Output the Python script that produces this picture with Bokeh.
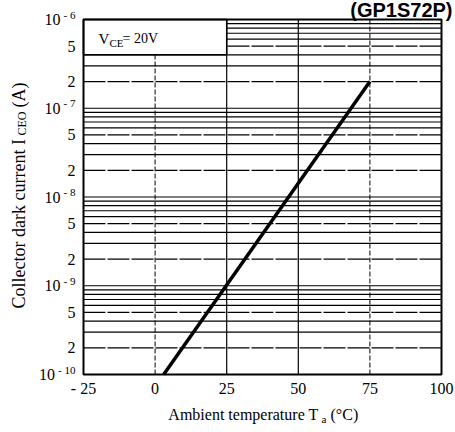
import math
from bokeh.plotting import figure
from bokeh.models import Range1d, Label
from bokeh.embed import file_html
from bokeh.resources import INLINE

# ---- data ----
temperature = [3, 75]              # Ta (deg C)
dark_current = [1e-10, 2e-7]       # I_CEO (A)

x_ticks = [-25, 0, 25, 50, 75, 100]
x_tick_labels = ["- 25", "0", "25", "50", "75", "100"]

decades = [-10, -9, -8, -7, -6]
y_label_mults = [2, 5]

x_min, x_max = -25, 100
y_min, y_max = 1e-10, 1e-6

# ---- layout constants (canvas pixels) ----
SERIF = "Liberation Serif"
W, H = 455, 432
FL, FR, FT, FB = 83, 441, 19, 374   # plot box edges

kx = (FR - FL) / (x_max - x_min)
ky = (FB - FT) / (math.log10(y_max) - math.log10(y_min))
xr = Range1d(x_min - FL / kx, x_max + (W - FR) / kx)
yr = Range1d(y_min / 10 ** ((H - FB) / ky), y_max * 10 ** (FT / ky))

p = figure(width=W, height=H, title=None, y_axis_type="log",
           x_range=xr, y_range=yr, x_axis_location=None, y_axis_location=None,
           output_backend="svg", toolbar_location=None,
           min_border=0, min_border_left=0, min_border_right=0,
           min_border_top=0, min_border_bottom=0)
p.background_fill_color = "white"
p.border_fill_color = "white"
p.outline_line_color = None
p.grid.visible = False

# horizontal grid
solid_y, dashed_y = [], []
for d in decades[:-1]:
    for m in range(2, 10):
        v = m * 10.0 ** d
        (dashed_y if m in (2, 5) else solid_y).append(v)
    if d > decades[0]:
        solid_y.append(10.0 ** d)

p.segment(x0=[x_min] * len(solid_y), x1=[x_max] * len(solid_y), y0=solid_y, y1=solid_y,
          line_color="black", line_width=1.2)
p.segment(x0=[x_min] * len(dashed_y), x1=[x_max] * len(dashed_y), y0=dashed_y, y1=dashed_y,
          line_color="black", line_width=1.2, line_dash="22 2")

# vertical grid
solid_x = [x_ticks[2], x_ticks[3]]
dashed_x = [x_ticks[1], x_ticks[4]]
p.segment(x0=solid_x, x1=solid_x, y0=[y_min] * 2, y1=[y_max] * 2,
          line_color="black", line_width=1.2)
p.segment(x0=dashed_x, x1=dashed_x, y0=[y_min] * 2, y1=[y_max] * 2,
          line_color="black", line_width=1, line_dash="5 2")

# inset box V_CE
p.quad(left=[-25], right=[25], bottom=[4e-7], top=[1e-6],
       fill_color="white", line_color="black", line_width=1.5)

# curve
p.line(temperature, dark_current, line_color="black", line_width=3.5)

# plot border
p.quad(left=[x_min], right=[x_max], bottom=[y_min], top=[y_max],
       fill_color=None, line_color="black", line_width=2)


def lab(text, x, y, size, align="left", baseline="middle", angle=0.0,
        font=SERIF, style="normal", units="canvas", xoff=0, yoff=0):
    p.add_layout(Label(x=x, y=y, x_units=units, y_units=units, text=text,
                       text_font=font, text_font_size=f"{size}px",
                       text_font_style=style, text_color="black",
                       text_align=align, text_baseline=baseline,
                       angle=angle, x_offset=xoff, y_offset=yoff))


# x tick labels
for t, s in zip(x_ticks, x_tick_labels):
    lab(s, t, y_min, 16, align="center", units="data", yoff=-14)

# y tick labels
for d in decades:
    exp = f"- {abs(d)}"
    w = 11 * (0.58 + 0.5 * len(str(abs(d))))
    lab(exp, x_min, 10.0 ** d, 11, align="right", units="data", xoff=-8, yoff=5)
    lab("10", x_min, 10.0 ** d, 16, align="right", units="data", xoff=-8 - w - 3)
    if d < decades[-1]:
        for m in y_label_mults:
            lab(str(m), x_min, m * 10.0 ** d, 16, align="right", units="data", xoff=-8)

# axis titles
lab("Ambient temperature T", 318, 414, 16, align="right")
lab("a", 321, 418, 11)
lab("(°C)", 330, 414, 16)

lab("Collector dark current I", 18, 308, 18, angle=math.pi / 2)
lab("CEO", 21, 135, 12, angle=math.pi / 2)
lab("(A)", 18, 107, 18, angle=math.pi / 2)

# inset text
lab("V", 98, 38, 15)
lab("CE", 109, 42, 11)
lab("= 20V", 122, 38, 14)

# part number
lab("(GP1S72P)", 452, 9, 20, align="right", font="Liberation Sans", style="bold")

open("out.html", "w").write(file_html(p, INLINE))
